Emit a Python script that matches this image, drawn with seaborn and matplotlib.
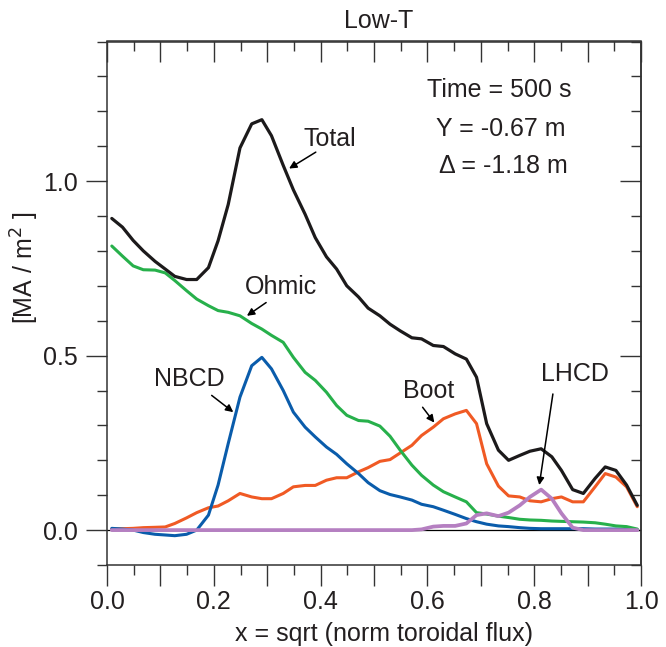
import matplotlib
matplotlib.use("Agg")
import matplotlib.pyplot as plt
from matplotlib.ticker import MultipleLocator, FixedLocator, FuncFormatter
import seaborn as sns
import pandas as pd

# ---- data ----
x = [0.009, 0.029, 0.049, 0.068, 0.090, 0.109, 0.127, 0.149, 0.168, 0.190,
     0.208, 0.227, 0.249, 0.271, 0.290, 0.308, 0.330, 0.349, 0.371, 0.390,
     0.411, 0.430, 0.449, 0.471, 0.489, 0.511, 0.530, 0.549, 0.571, 0.589,
     0.611, 0.630, 0.652, 0.673, 0.692, 0.711, 0.733, 0.752, 0.773, 0.792,
     0.813, 0.833, 0.851, 0.872, 0.892, 0.914, 0.933, 0.953, 0.973, 0.993]

total = [0.893, 0.868, 0.830, 0.800, 0.770, 0.748, 0.727, 0.718, 0.718, 0.752,
         0.829, 0.933, 1.095, 1.164, 1.176, 1.130, 1.045, 0.975, 0.905, 0.838,
         0.783, 0.748, 0.700, 0.668, 0.636, 0.614, 0.590, 0.571, 0.551, 0.548,
         0.529, 0.526, 0.505, 0.490, 0.438, 0.305, 0.229, 0.200, 0.214, 0.226,
         0.233, 0.210, 0.171, 0.116, 0.105, 0.148, 0.181, 0.171, 0.129, 0.071]

ohmic = [0.814, 0.785, 0.757, 0.746, 0.745, 0.737, 0.715, 0.686, 0.662, 0.643,
         0.629, 0.624, 0.614, 0.592, 0.576, 0.558, 0.538, 0.495, 0.452, 0.429,
         0.395, 0.357, 0.329, 0.314, 0.312, 0.298, 0.269, 0.229, 0.186, 0.157,
         0.129, 0.110, 0.095, 0.081, 0.050, 0.046, 0.040, 0.036, 0.031, 0.029,
         0.028, 0.026, 0.025, 0.024, 0.023, 0.021, 0.017, 0.012, 0.010, 0.003]

nbcd = [0.005, 0.003, 0.000, -0.007, -0.012, -0.014, -0.016, -0.012, 0.000, 0.043,
        0.129, 0.248, 0.381, 0.471, 0.495, 0.462, 0.400, 0.338, 0.295, 0.267,
        0.238, 0.217, 0.190, 0.162, 0.136, 0.113, 0.102, 0.095, 0.086, 0.074,
        0.067, 0.057, 0.045, 0.033, 0.024, 0.017, 0.012, 0.010, 0.007, 0.005,
        0.004, 0.004, 0.004, 0.004, 0.004, 0.003, 0.003, 0.003, 0.002, 0.001]

boot = [0.003, 0.004, 0.005, 0.007, 0.008, 0.009, 0.019, 0.035, 0.050, 0.064,
        0.069, 0.084, 0.105, 0.095, 0.090, 0.090, 0.105, 0.124, 0.128, 0.128,
        0.143, 0.150, 0.150, 0.167, 0.179, 0.197, 0.202, 0.221, 0.243, 0.271,
        0.295, 0.319, 0.333, 0.343, 0.305, 0.190, 0.126, 0.098, 0.095, 0.084,
        0.081, 0.090, 0.095, 0.081, 0.081, 0.124, 0.162, 0.152, 0.124, 0.067]

lhcd = [0.0, 0.0, 0.0, 0.0, 0.0, 0.0, 0.0, 0.0, 0.0, 0.0,
        0.0, 0.0, 0.0, 0.0, 0.0, 0.0, 0.0, 0.0, 0.0, 0.0,
        0.0, 0.0, 0.0, 0.0, 0.0, 0.0, 0.0, 0.0, 0.0, 0.002,
        0.010, 0.012, 0.012, 0.019, 0.043, 0.048, 0.040, 0.050, 0.071, 0.095,
        0.116, 0.090, 0.048, 0.007, 0.0, 0.0, 0.0, 0.0, 0.0, 0.0]

series_names = ["Boot", "NBCD", "Ohmic", "Total", "LHCD"]
series_values = [boot, nbcd, ohmic, total, lhcd]
colors = {"Total": "#1c1a1b", "Ohmic": "#27b04b", "NBCD": "#0a5cab",
          "Boot": "#f05a24", "LHCD": "#b57fc1"}
widths = {"Total": 2.3, "Ohmic": 2.2, "NBCD": 2.2, "Boot": 2.2, "LHCD": 2.7}

labels_text = {"Total": ((0.418, 1.121), (0.341, 1.036), (0.391, 1.083)),
               "Ohmic": ((0.326, 0.697), (0.262, 0.614), (0.298, 0.652)),
               "NBCD": ((0.155, 0.434), (0.2365, 0.338), (0.196, 0.386)),
               "Boot": ((0.602, 0.398), (0.613, 0.308), (0.591, 0.352)),
               "LHCD": ((0.876, 0.447), (0.8095, 0.129), (0.835, 0.390))}

info_lines = ["Time = 500 s", "Y = -0.67 m", "\u0394 = -1.18 m"]
info_pos = [(0.735, 1.26), (0.738, 1.149), (0.743, 1.043)]

# ---- build long table ----
rows = []
for name, vals in zip(series_names, series_values):
    for xi, yi in zip(x, vals):
        rows.append({"x": xi, "y": yi, "series": name})
df = pd.DataFrame(rows)

sns.set_theme(style="ticks")
plt.rcParams["font.family"] = ["Liberation Sans", "DejaVu Sans"]
txt_color = "#231f20"
plt.rcParams["text.color"] = txt_color
plt.rcParams["axes.edgecolor"] = "#333333"

fig = plt.figure(figsize=(6.66, 6.47), dpi=100)
ax = fig.add_axes([107 / 666, 1 - 565 / 647, 534 / 666, 523.5 / 647])

ax.axhline(0, color="black", lw=0.9, zorder=1)

for name in series_names:
    sub = df[df["series"] == name]
    sns.lineplot(data=sub, x="x", y="y", ax=ax, color=colors[name],
                 lw=widths[name], estimator=None, sort=False, legend=False,
                 zorder=3)

ax.set_xlim(0, 1.0)
ax.set_ylim(-0.1, 1.4)
ax.set_xlabel("")
ax.set_ylabel("")

ax.xaxis.set_major_locator(MultipleLocator(0.1))
ax.xaxis.set_minor_locator(MultipleLocator(0.05))
ax.xaxis.set_major_formatter(FuncFormatter(
    lambda v, p: f"{v:.1f}" if round(v * 10) % 2 == 0 else ""))
ax.yaxis.set_major_locator(FixedLocator([0.0, 0.5, 1.0]))
ax.yaxis.set_minor_locator(MultipleLocator(0.1))
ax.yaxis.set_major_formatter(FuncFormatter(lambda v, p: f"{v:.1f}"))

ax.tick_params(axis="both", which="major", direction="out", length=15,
               width=1.0, labelsize=18, colors="#333333", labelcolor=txt_color)
ax.tick_params(axis="both", which="minor", direction="out", length=7.5,
               width=1.0, colors="#333333")
ax.tick_params(axis="x", which="major", pad=3)
ax.tick_params(axis="y", which="major", pad=6)
for s in ax.spines.values():
    s.set_linewidth(1.1)
    s.set_visible(True)

sec_x = ax.secondary_xaxis("top")
sec_x.xaxis.set_major_locator(MultipleLocator(0.1))
sec_x.xaxis.set_minor_locator(MultipleLocator(0.05))
sec_x.tick_params(which="major", direction="in", length=15, width=1.0,
                  labeltop=False, colors="#333333")
sec_x.tick_params(which="minor", direction="in", length=7.5, width=1.0,
                  colors="#333333")
sec_x.spines["top"].set_linewidth(1.1)

sec_y = ax.secondary_yaxis("right")
sec_y.yaxis.set_major_locator(FixedLocator([0.0, 0.5, 1.0]))
sec_y.yaxis.set_minor_locator(MultipleLocator(0.1))
sec_y.tick_params(which="major", direction="in", length=15, width=1.0,
                  labelright=False, colors="#333333")
sec_y.tick_params(which="minor", direction="in", length=7.5, width=1.0,
                  colors="#333333")
sec_y.spines["right"].set_linewidth(1.1)

for name, (tpos, head, tail) in labels_text.items():
    ax.text(tpos[0], tpos[1], name, ha="center", va="center", fontsize=18,
            zorder=5)
    ax.annotate("", xy=head, xytext=tail,
                arrowprops=dict(arrowstyle="-|>", color="black", lw=1.1,
                                mutation_scale=11, shrinkA=0, shrinkB=0),
                zorder=5)

for line, (px, py) in zip(info_lines, info_pos):
    ax.text(px, py, line, ha="center", va="center", fontsize=18)

fig.text(378.5 / 666, 1 - 20.5 / 647, "Low-T", ha="center", va="center",
         fontsize=18)
fig.text(384.5 / 666, 1 - 634 / 647, "x = sqrt (norm toroidal flux)",
         ha="center", va="center", fontsize=18)
fig.text(25 / 666, 1 - 268 / 647, "[MA / m$^2$ ]", ha="center", va="center",
         rotation=90, fontsize=18)

fig.savefig("out.png", dpi=100)
